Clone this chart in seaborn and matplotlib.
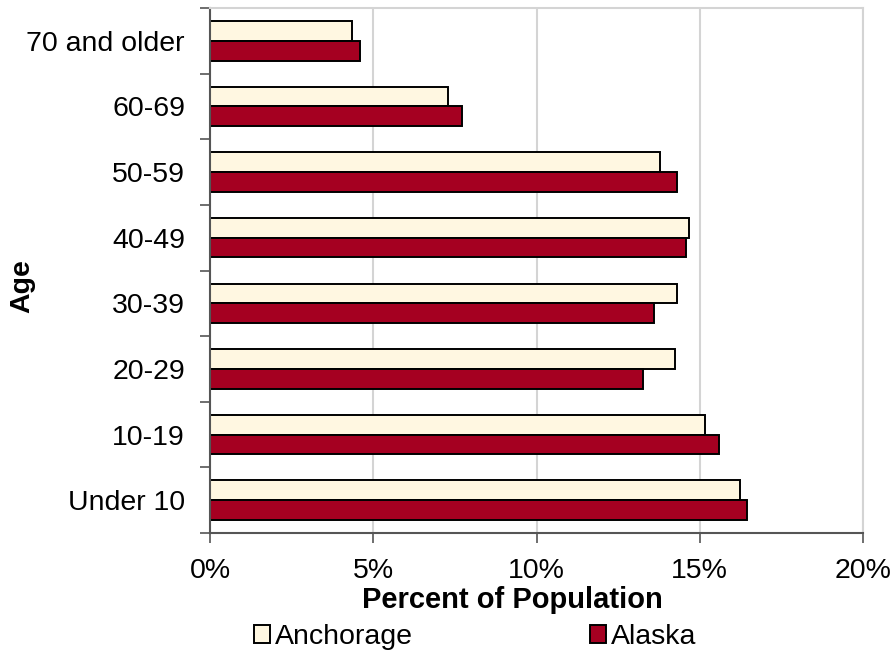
import matplotlib
matplotlib.use("Agg")
import matplotlib.pyplot as plt
import seaborn as sns
import pandas as pd
from matplotlib.ticker import FuncFormatter, FixedLocator

ages = ["70 and older", "60-69", "50-59", "40-49", "30-39", "20-29", "10-19", "Under 10"]
anchorage = [4.36, 7.30, 13.78, 14.67, 14.30, 14.24, 15.17, 16.24]
alaska = [4.58, 7.71, 14.30, 14.57, 13.60, 13.27, 15.60, 16.44]
series = ["Anchorage", "Alaska"]
colors = ["#FFF7E1", "#A50021"]

df = pd.DataFrame({
    "Age": ages * 2,
    "Percent": anchorage + alaska,
    "Series": [series[0]] * len(ages) + [series[1]] * len(ages),
})

sns.set_theme(style="white")
plt.rcParams["font.family"] = ["Liberation Sans", "DejaVu Sans"]
plt.rcParams["text.color"] = "black"
plt.rcParams["axes.labelcolor"] = "black"

FS = 20.5
fig = plt.figure(figsize=(8.93, 6.53), dpi=100)
ax = fig.add_axes([210 / 893, 1 - 533 / 653, (863 - 210) / 893, (533 - 8) / 653])

sns.barplot(data=df, x="Percent", y="Age", hue="Series", order=ages,
            hue_order=series, palette=colors, orient="h", width=0.6,
            edgecolor="black", linewidth=1.4, saturation=1, ax=ax, legend=True)

ax.set_xlim(0, 20)
ax.set_ylim(len(ages) - 0.5, -0.5)
ax.set_xticks([0, 5, 10, 15, 20])
ax.xaxis.set_major_formatter(FuncFormatter(lambda v, p: f"{v:.0f}%"))
ax.grid(axis="x", color="#d4d4d4", linewidth=1.5)
ax.set_axisbelow(True)

ax.set_yticks(range(len(ages)))
ax.set_yticklabels(ages)
ax.yaxis.set_minor_locator(FixedLocator([i - 0.5 for i in range(len(ages) + 1)]))
ax.tick_params(axis="y", which="major", length=0, pad=18, labelsize=FS, colors="black")
ax.tick_params(axis="y", which="minor", left=True, length=7, width=1.2, color="#555555")
ax.tick_params(axis="x", which="major", bottom=True, length=7, width=1.2,
               color="#555555", pad=11, labelsize=FS, labelcolor="black")

for s in ["top", "right"]:
    ax.spines[s].set_color("#d4d4d4")
    ax.spines[s].set_linewidth(1.5)
for s in ["left", "bottom"]:
    ax.spines[s].set_color("#555555")
    ax.spines[s].set_linewidth(1.5)

W, H = 863 - 210, 533 - 8
ax.set_xlabel("Percent of Population", fontsize=FS + 0.5, fontweight="bold", color="black")
ax.set_ylabel("Age", fontsize=FS, fontweight="bold", color="black")
ax.yaxis.set_label_coords((35 - 210) / W, (533 - 286) / H)
ax.xaxis.set_label_coords((512 - 210) / W, (533 - 586) / H)

handles, labels = ax.get_legend_handles_labels()
ax.get_legend().remove()
leg = fig.legend(handles, labels, loc="center left", bbox_to_anchor=(254 / 893, 1 - 637 / 653),
                 ncol=2, frameon=False, fontsize=FS, handlelength=0.55, handleheight=0.55,
                 handletextpad=0.2, columnspacing=6.2, borderpad=0, borderaxespad=0)
for t in leg.get_texts():
    t.set_color("black")

fig.savefig("out.png", dpi=100)
